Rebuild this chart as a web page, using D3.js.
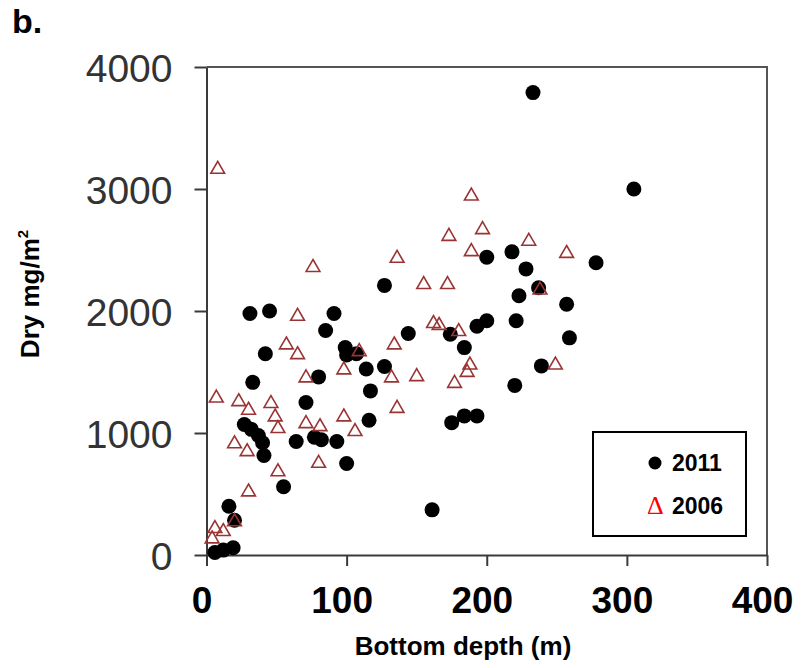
<!DOCTYPE html>
<html>
<head>
<meta charset="utf-8">
<script src="https://cdn.jsdelivr.net/npm/d3@7"></script>
<style>
  html, body { margin: 0; padding: 0; background: #fff; }
  svg { display: block; }
</style>
</head>
<body>
<div id="chart"></div>
<script>
// Bottom depth (m) and dry weight (mg/m^2) per station, by survey year
const depth2011 = [233, 305, 278, 218, 200, 228, 223, 237, 257, 200, 221, 259, 239, 220, 193, 184, 175,
                   31, 45, 91, 85, 42, 33, 144, 99, 100, 107, 114, 127, 117, 80, 71, 116,
                   27, 32, 37, 40, 41, 64, 77, 82, 93, 100, 55, 161, 193, 174, 184, 127,
                   16, 20, 19, 6, 12];
const dry2011   = [3790, 3000, 2395, 2485, 2440, 2345, 2125, 2190, 2055, 1920, 1920, 1780, 1550, 1390, 1140, 1140, 1085,
                   1980, 2000, 1980, 1840, 1650, 1415, 1815, 1700, 1640, 1650, 1525, 1545, 1345, 1460, 1250, 1105,
                   1070, 1030, 980, 920, 815, 930, 965, 945, 930, 750, 560, 370, 1875, 1810, 1700, 2210,
                   400, 285, 60, 20, 40];

const depth2006 = [8, 189, 173, 197, 189, 76, 136, 155, 172, 230, 257, 238, 249,
                   65, 57, 65, 71, 98, 109, 134, 132, 150, 136, 162, 166, 180, 188, 186, 177,
                   7, 23, 30, 46, 49, 51, 71, 81, 98, 106, 20, 29, 51, 80, 30,
                   6, 4, 20, 12];
const dry2006   = [3170, 2950, 2620, 2675, 2495, 2365, 2440, 2225, 2225, 2580, 2480, 2180, 1565,
                   1965, 1730, 1650, 1460, 1525, 1675, 1730, 1460, 1470, 1210, 1905, 1890, 1840, 1565, 1505, 1415,
                   1295, 1265, 1195, 1250, 1140, 1045, 1085, 1060, 1140, 1020, 920, 855, 690, 760, 525,
                   225, 140, 280, 200];

const xTicks = [0, 100, 200, 300, 400];
const yTicks = [0, 1000, 2000, 3000, 4000];
const seriesNames = ["2011", "2006"];

const W = 802, H = 668;
const svg = d3.select("#chart").append("svg").attr("width", W).attr("height", H);

const x = d3.scaleLinear().domain([0, 400]).range([206.5, 767]);
const y = d3.scaleLinear().domain([0, 4000]).range([555, 67]);

const axisColor = "#3a3a3a";

// plot frame (top and right edges)
svg.append("path")
  .attr("d", `M${x(0)},${y(4000)}H${x(400)}V${y(0)}`)
  .attr("fill", "none").attr("stroke", "#555").attr("stroke-width", 2);

// y axis
const yAxis = svg.append("g").attr("transform", `translate(${x(0)},0)`)
  .call(d3.axisLeft(y).tickValues(yTicks).tickSize(12).tickSizeOuter(0).tickFormat(d3.format("d")));
yAxis.select(".domain").attr("stroke", axisColor).attr("stroke-width", 2);
yAxis.selectAll(".tick line").attr("stroke", axisColor).attr("stroke-width", 2);
yAxis.selectAll(".tick text")
  .attr("x", -34).attr("dy", "0.36em")
  .attr("font-family", "'Liberation Sans', Arial, sans-serif")
  .attr("font-size", 39).attr("fill", "#333");

// x axis
const xAxis = svg.append("g").attr("transform", `translate(0,${y(0)})`)
  .call(d3.axisBottom(x).tickValues(xTicks).tickSize(11).tickSizeOuter(0).tickFormat(d3.format("d")));
xAxis.select(".domain").attr("stroke", axisColor).attr("stroke-width", 2);
xAxis.selectAll(".tick line").attr("stroke", axisColor).attr("stroke-width", 2);
xAxis.selectAll(".tick text")
  .attr("y", 58).attr("dy", 0).attr("dx", -5)
  .attr("font-family", "'Liberation Sans', Arial, sans-serif")
  .attr("font-weight", "bold").attr("font-size", 37).attr("fill", "#000");

// axis titles
svg.append("text")
  .attr("x", 463).attr("y", 655)
  .attr("text-anchor", "middle")
  .attr("font-family", "'Liberation Sans', Arial, sans-serif")
  .attr("font-weight", "bold").attr("font-size", 26)
  .text("Bottom depth (m)");

const yTitle = svg.append("text")
  .attr("transform", "translate(39,294) rotate(-90)")
  .attr("text-anchor", "middle")
  .attr("font-family", "'Liberation Sans Narrow', 'Liberation Sans', sans-serif")
  .attr("font-weight", "bold").attr("font-size", 26);
yTitle.append("tspan").text("Dry mg/m");
yTitle.append("tspan").attr("font-size", 15).attr("dy", -11).text("2");

// panel letter
svg.append("text")
  .attr("x", 12).attr("y", 33)
  .attr("font-family", "'Liberation Sans', Arial, sans-serif")
  .attr("font-weight", "bold").attr("font-size", 34)
  .text("b.");

// points
const pts2011 = depth2011.map((d, i) => ({ x: d, y: dry2011[i] }));
const pts2006 = depth2006.map((d, i) => ({ x: d, y: dry2006[i] }));

svg.append("g").selectAll("circle").data(pts2011).join("circle")
  .attr("cx", d => x(d.x)).attr("cy", d => y(d.y))
  .attr("r", 7.5).attr("fill", "#000");

const tri = d3.symbol(d3.symbolTriangle, 82);
svg.append("g").selectAll("path").data(pts2006).join("path")
  .attr("transform", d => `translate(${x(d.x)},${y(d.y) + 1})`)
  .attr("d", tri)
  .attr("fill", "none")
  .attr("stroke", "#9a3434").attr("stroke-width", 1.6)
  .attr("stroke-linejoin", "miter");

// legend
const lg = svg.append("g");
lg.append("rect")
  .attr("x", 593).attr("y", 432).attr("width", 153).attr("height", 104)
  .attr("fill", "#fff").attr("stroke", "#000").attr("stroke-width", 2);
lg.append("circle").attr("cx", 655).attr("cy", 463).attr("r", 6.5).attr("fill", "#000");
lg.append("text")
  .attr("x", 647).attr("y", 514)
  .attr("font-family", "'Liberation Serif', 'Times New Roman', serif")
  .attr("font-size", 26).attr("fill", "#ff0000")
  .text("\u0394");
lg.selectAll("text.lab").data(seriesNames).join("text")
  .attr("class", "lab")
  .attr("x", 672).attr("y", (d, i) => 471 + i * 43)
  .attr("font-family", "'Liberation Sans', Arial, sans-serif")
  .attr("font-weight", "bold").attr("font-size", 23)
  .text(d => d);
</script>
</body>
</html>
